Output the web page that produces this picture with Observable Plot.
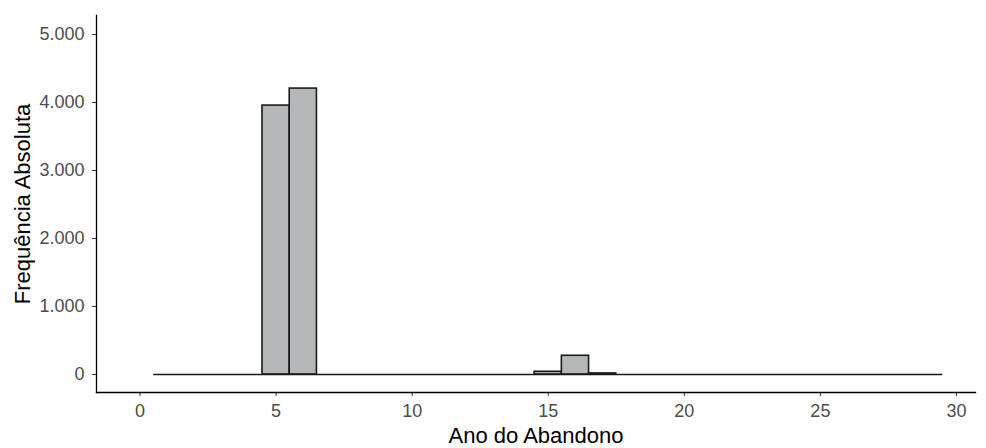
<!DOCTYPE html>
<html>
<head>
<meta charset="utf-8">
<script src="https://cdn.jsdelivr.net/npm/d3@7"></script>
<script src="https://cdn.jsdelivr.net/npm/@observablehq/plot@0.6"></script>
<style>
  html, body { margin: 0; padding: 0; background: #fff; }
  #chart svg { display: block; }
</style>
</head>
<body>
<div id="chart"></div>
<script>
const years  = [1,2,3,4,5,6,7,8,9,10,11,12,13,14,15,16,17,18,19,20,21,22,23,24,25,26,27,28,29];
const counts = [0,0,0,0,3955,4205,0,0,0,0,0,0,0,0,40,275,15,0,0,0,0,0,0,0,0,0,0,0,0];
const xTicks = [0,5,10,15,20,25,30];
const yTicks = [0,1000,2000,3000,4000,5000];
const xTitle = "Ano do Abandono";
const yTitle = "Frequência Absoluta";

const bins = years.map((y, i) => ({x1: y - 0.5, x2: y + 0.5, count: counts[i]}));
const xMin = d3.min(bins, d => d.x1);
const xMax = d3.max(bins, d => d.x2);
const fmt = v => d3.format(",")(v).replace(/,/g, ".");

const chart = Plot.plot({
  width: 986,
  height: 448,
  marginLeft: 96,
  marginRight: 11,
  marginTop: 15,
  marginBottom: 56,
  style: {fontFamily: "'Liberation Sans', Arial, sans-serif", background: "#fff"},
  x: {domain: [-1.6, 30.7], axis: null},
  y: {domain: [-265, 5280], axis: null},
  marks: [
    Plot.axisX({ticks: xTicks, tickSize: 4, tickPadding: 8, fontSize: 18, color: "#4d4d4d", stroke: "#333", label: null}),
    Plot.axisY({ticks: yTicks, tickSize: 4, tickPadding: 8, fontSize: 18, color: "#4d4d4d", stroke: "#333", tickFormat: fmt, label: null}),
    Plot.frame({anchor: "left", stroke: "#000", strokeWidth: 1.3}),
    Plot.frame({anchor: "bottom", stroke: "#000", strokeWidth: 1.3}),
    Plot.ruleY([0], {x1: xMin, x2: xMax, stroke: "#1a1a1a", strokeWidth: 1.6}),
    Plot.rectY(bins.filter(d => d.count > 0), {x1: "x1", x2: "x2", y1: 0, y2: "count", fill: "#b5b8b9", stroke: "#1a1a1a", strokeWidth: 1.6}),
    Plot.text([xTitle], {frameAnchor: "bottom", textAnchor: "middle", lineAnchor: "middle", dy: 43, fontSize: 22, fill: "#000"}),
    Plot.text([yTitle], {frameAnchor: "left", textAnchor: "middle", lineAnchor: "middle", dx: -74, rotate: -90, fontSize: 22, fill: "#000"})
  ]
});
document.getElementById("chart").appendChild(chart);
</script>
</body>
</html>
